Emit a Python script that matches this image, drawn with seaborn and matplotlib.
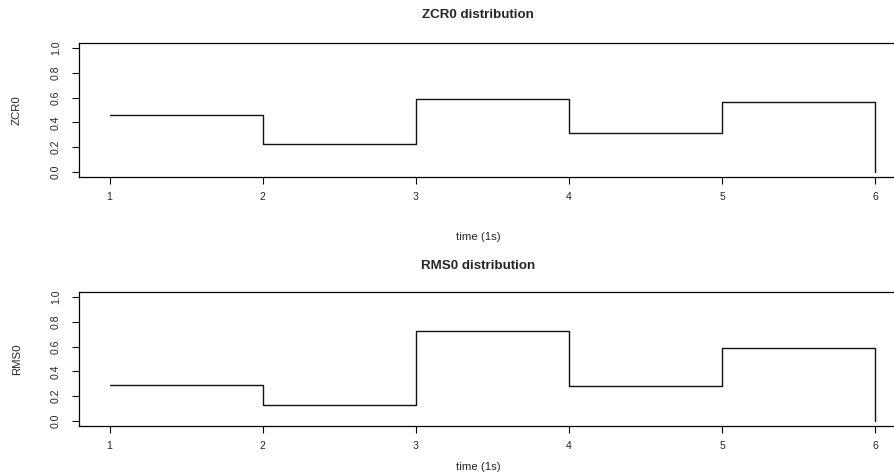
import matplotlib
matplotlib.use("Agg")
import matplotlib.pyplot as plt
import seaborn as sns

sns.set_style("ticks")
plt.rcParams['font.family'] = ['Liberation Sans', 'DejaVu Sans']

# one value per second, last point drops back to 0
time = [1, 2, 3, 4, 5, 6]
zcr0 = [0.46, 0.224, 0.586, 0.312, 0.565, 0.0]
rms0 = [0.29, 0.129, 0.722, 0.285, 0.59, 0.0]
y_ticks = [0.0, 0.2, 0.4, 0.6, 0.8, 1.0]

W, H = 895, 476
fig = plt.figure(figsize=(W / 100, H / 100), dpi=100)

def panel(top_px, values, name, title_px, xlab_px):
    left, right, bottom = 79, 906, top_px + 134
    ax = fig.add_axes([left / W, (H - bottom) / H, (right - left) / W, 134 / H])
    sns.lineplot(x=time, y=values, drawstyle='steps-post', color='#111111',
                 linewidth=1, ax=ax)
    ax.set_xlim(0.8, 6.2)
    ax.set_ylim(-0.04, 1.04)
    ax.set_xticks(time)
    ax.set_xticklabels([str(t) for t in time])
    ax.set_yticks(y_ticks)
    ax.set_yticklabels([f"{v:.1f}" for v in y_ticks], rotation=90, va='center')
    ax.tick_params(axis='both', length=5, width=0.8, labelsize=7.6, color='black')
    ax.tick_params(axis='x', pad=5.5)
    ax.tick_params(axis='y', pad=8)
    for s in ax.spines.values():
        s.set_linewidth(0.9)
        s.set_color('black')
    cx = (478 - left) / (right - left)
    ax.set_title(f"{name} distribution", fontsize=9.6, fontweight='bold',
                 x=cx, y=(bottom - title_px) / 134, va='center', pad=0)
    ax.set_xlabel("time (1s)", fontsize=8.2, va='center')
    ax.xaxis.set_label_coords(cx, (bottom - xlab_px) / 134)
    ax.set_ylabel(name, fontsize=8.2, va='center')
    ax.yaxis.set_label_coords((17 - left) / (right - left), 0.5)
    return ax

panel(43, zcr0, "ZCR0", 15, 237)
panel(292, rms0, "RMS0", 266, 467)

fig.savefig("out.png", dpi=100)
